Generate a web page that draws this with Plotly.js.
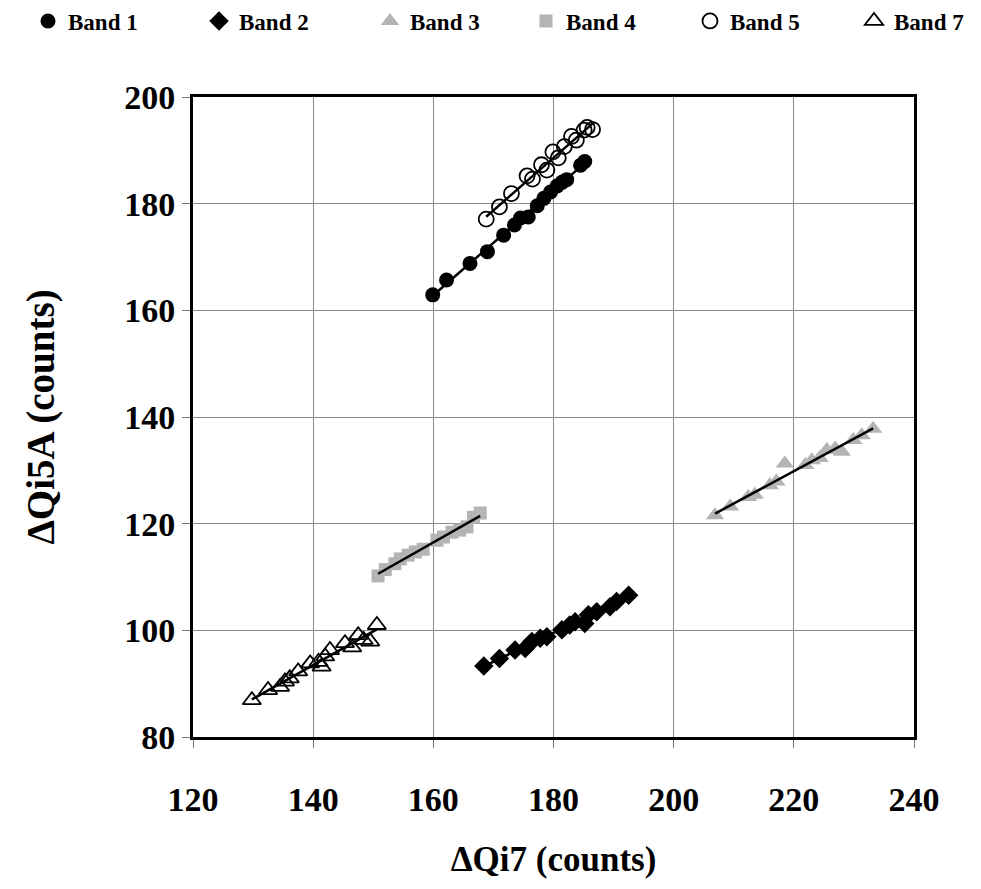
<!DOCTYPE html>
<html>
<head>
<meta charset="utf-8">
<script src="https://cdn.plot.ly/plotly-3.0.1.min.js"></script>
<style>html,body{margin:0;padding:0;background:#fff;}#chart{width:981px;height:889px;}</style>
</head>
<body>
<div id="chart"></div>
<script>
// Data
const band1X = [159.9,162.2,166.1,169.0,171.7,173.5,174.5,175.8,177.3,178.4,179.5,180.6,181.4,182.2,184.5,185.2];
const band1Y = [162.9,165.7,168.8,171.0,174.1,176.0,177.3,177.5,179.6,181.0,182.2,183.3,184.0,184.5,187.2,187.9];

const band2X = [168.4,171.0,173.6,175.3,176.4,177.8,178.9,181.4,182.7,183.6,185.2,185.8,187.2,189.4,190.5,192.5];
const band2Y = [93.3,94.7,96.3,96.6,97.9,98.5,98.8,100.1,101.0,101.6,101.3,102.9,103.5,104.4,105.4,106.6];

const band3X = [206.9,209.4,212.4,213.5,216.0,217.1,218.5,221.9,223.0,224.3,225.5,226.9,228.0,229.9,231.3,233.2];
const band3Y = [121.6,123.2,125.0,125.4,127.2,127.9,131.3,131.0,131.9,132.3,133.8,134.1,133.5,135.7,136.6,137.8];

const band4X = [150.8,152.0,153.6,154.5,155.8,157.0,158.3,160.6,161.7,163.1,164.4,165.6,166.7,167.8];
const band4Y = [110.2,111.4,112.5,113.4,114.1,114.7,115.2,116.9,117.5,118.4,118.8,119.4,121.2,122.0];

const band5X = [168.8,171.0,173.0,175.6,176.5,178.0,178.9,179.9,180.8,181.8,183.0,183.8,185.1,185.6,186.5];
const band5Y = [177.1,179.4,181.9,185.2,184.6,187.3,186.3,189.7,188.6,190.7,192.6,191.9,193.8,194.3,193.9];

const band7X = [129.8,132.5,134.5,135.3,136.1,137.5,139.5,140.9,141.4,142.0,142.8,145.3,146.5,147.5,148.4,149.5,150.6];
const band7Y = [86.9,88.8,89.4,90.4,91.0,92.3,93.8,94.1,93.2,95.1,96.3,97.6,96.8,99.1,98.2,97.9,101.0];

const seriesNames = ['Band 1','Band 2','Band 3','Band 4','Band 5','Band 7'];
const xTicks = [120,140,160,180,200,220,240];
const yTicks = [80,100,120,140,160,180,200];

const FONT = 'Liberation Serif, Times New Roman, serif';
const GREY = '#b4b4b4';

function fit(xs, ys) {
  const n = xs.length;
  let sx=0, sy=0, sxx=0, sxy=0;
  for (let i=0;i<n;i++){sx+=xs[i];sy+=ys[i];sxx+=xs[i]*xs[i];sxy+=xs[i]*ys[i];}
  const b = (n*sxy - sx*sy)/(n*sxx - sx*sx);
  const a = (sy - b*sx)/n;
  const x0 = Math.min(...xs), x1 = Math.max(...xs);
  return {x:[x0,x1], y:[a+b*x0, a+b*x1]};
}

const styles = [
  {symbol:'circle', size:15, color:'#000', line:{width:0}},
  {symbol:'diamond', size:15, color:'#000', line:{width:0}},
  {symbol:'triangle-up', size:16, color:GREY, line:{width:0}},
  {symbol:'square', size:13, color:GREY, line:{width:0}},
  {symbol:'circle-open', size:15, color:'#000', line:{width:1.8, color:'#000'}},
  {symbol:'triangle-up-open', size:16, color:'#000', line:{width:1.8, color:'#000'}}
];
const legendOf = ['legend','legend','legend','legend2','legend2','legend2'];
const allX = [band1X, band2X, band3X, band4X, band5X, band7X];
const allY = [band1Y, band2Y, band3Y, band4Y, band5Y, band7Y];

const traces = [];
for (let i=0;i<6;i++){
  traces.push({
    type:'scatter', mode:'markers', name:seriesNames[i], legend:legendOf[i],
    x:allX[i], y:allY[i],
    marker:{symbol:styles[i].symbol, size:styles[i].size, color:styles[i].color, line:styles[i].line},
    cliponaxis:false
  });
}
for (let i=0;i<6;i++){
  const f = fit(allX[i], allY[i]);
  traces.push({
    type:'scatter', mode:'lines', x:f.x, y:f.y, showlegend:false,
    line:{color:'#000', width:2.5}, hoverinfo:'skip'
  });
}

const axisCommon = {
  showline:true, linecolor:'#000', linewidth:3, mirror:true,
  showgrid:true, gridcolor:'#8a8a8a', gridwidth:1,
  ticks:'outside', ticklen:8, tickwidth:1, tickcolor:'#777',
  zeroline:false,
  tickfont:{family:FONT, size:34, color:'#000', weight:'bold'}
};
const legendCommon = {
  orientation:'h', xref:'container', yref:'container',
  y:1 - 21/889, xanchor:'left', yanchor:'middle',
  font:{family:FONT, size:23, color:'#000', weight:'bold'},
  itemwidth:30, entrywidthmode:'pixels',
  bgcolor:'rgba(0,0,0,0)', borderwidth:0
};

const layout = {
  width:981, height:889,
  margin:{l:193, r:67, t:97, b:152},
  paper_bgcolor:'#fff', plot_bgcolor:'#fff',
  showlegend:true,
  legend:Object.assign({}, legendCommon, {x:28/981, entrywidth:126}),
  legend2:Object.assign({}, legendCommon, {x:526/981, entrywidth:119}),
  xaxis:Object.assign({}, axisCommon, {
    range:[120,240], tickmode:'array', tickvals:xTicks, ticktext:xTicks.map(String),
    ticklabelstandoff:22,
    title:{text:'\u0394Qi7 (counts)', font:{family:FONT, size:35, color:'#000', weight:'bold'}, standoff:30}
  }),
  yaxis:Object.assign({}, axisCommon, {
    range:[80,200], tickmode:'array', tickvals:yTicks, ticktext:yTicks.map(String),
    ticklabelstandoff:0,
    title:{text:'\u0394Qi5A (counts)', font:{family:FONT, size:39, color:'#000', weight:'bold'}, standoff:58}
  })
};

Plotly.newPlot('chart', traces, layout, {displayModeBar:false, staticPlot:true});
</script>
</body>
</html>
